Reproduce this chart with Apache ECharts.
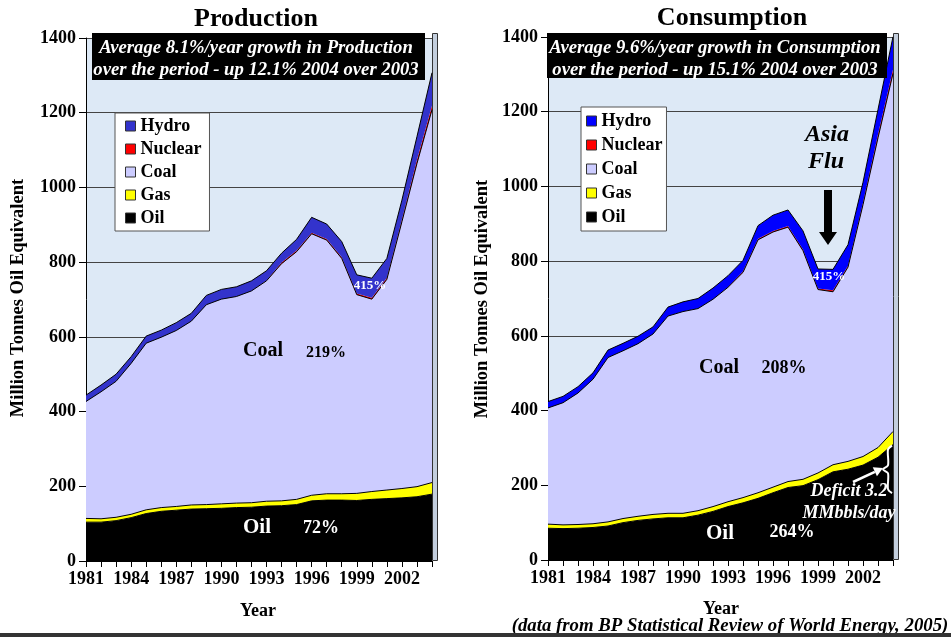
<!DOCTYPE html>
<html>
<head>
<meta charset="utf-8">
<script src="https://cdn.jsdelivr.net/npm/echarts@6/dist/echarts.min.js"></script>
<style>
  html, body { margin: 0; padding: 0; background: #ffffff; }
  #chart { width: 951px; height: 637px; }
</style>
</head>
<body>
<div id="chart"></div>
<script>
// Primary energy, China, Million Tonnes Oil Equivalent
const years = ['1981','1982','1983','1984','1985','1986','1987','1988','1989','1990','1991','1992',
               '1993','1994','1995','1996','1997','1998','1999','2000','2001','2002','2003','2004'];
const yTicks = [0, 200, 400, 600, 800, 1000, 1200, 1400];

// Production
const prodOil     = [104,104,108,116,127,133,136,139,140,141,143,144,147,148,151,161,163,163,162,165,167,169,172,179];
const prodGas     = [10,9,9,9,10,10,10,11,11,12,12,12,13,13,14,15,17,17,19,21,23,25,27,31];
const prodCoal    = [313,340,364,404,446,456,471,492,535,548,553,567,590,635,663,700,679,630,532,515,564,714,865,998];
const prodNuclear = [0,0,0,0,0,0,0,0,0,0,0,0,1,3,3,3,3,3,3,4,4,6,10,11];
const prodHydro   = [17,18,19,18,19,19,21,21,25,26,26,27,26,25,30,41,40,42,50,52,52,52,62,88];

// Consumption
const consOil     = [85,84,85,87,91,100,106,110,113,113,120,130,143,153,165,180,194,199,215,236,243,254,275,309];
const consGas     = [11,10,10,10,11,11,11,12,12,12,12,13,13,14,15,15,16,17,18,19,21,23,26,35];
const consCoal    = [311,327,352,387,440,449,462,483,528,540,541,555,574,603,677,683,681,612,491,463,520,674,829,958];
const consNuclear = [0,0,0,0,0,0,0,0,0,0,0,0,1,3,3,3,3,3,3,4,4,6,10,11];
const consHydro   = [17,17,17,17,20,20,20,19,24,26,27,30,30,29,35,42,43,50,52,56,56,54,66,88];

const FONT = "'Liberation Serif','Times New Roman',serif";
const PLOT_BG = '#dde9f6';
const COLORS = {
  Oil: '#000000', Gas: '#ffff00', Coal: '#ccccff', Nuclear: '#ff0000',
  HydroProd: '#3333cc', HydroCons: '#0000ff'
};

function layer(name, stack, idx, data, color, lineW) {
  return {
    name: name, type: 'line', stack: stack,
    xAxisIndex: idx, yAxisIndex: idx, data: data,
    symbol: 'none', showSymbol: false, smooth: false,
    lineStyle: { color: '#000000', width: lineW },
    areaStyle: { color: color, opacity: 1 },
    itemStyle: { color: color },
    emphasis: { disabled: true },
    animation: false
  };
}

function xAxisOf(grid) {
  return {
    gridIndex: grid, type: 'category', boundaryGap: false, data: years,
    axisLine: { show: true, lineStyle: { color: '#000', width: 1 } },
    axisTick: { show: true, interval: 0, length: 6, lineStyle: { color: '#000' } },
    axisLabel: { interval: 2, fontFamily: FONT, fontWeight: 'bold', fontSize: 18, color: '#000', margin: 9 },
    splitLine: { show: false }
  };
}
function yAxisOf(grid) {
  return {
    gridIndex: grid, type: 'value',
    min: yTicks[0], max: yTicks[yTicks.length - 1], interval: yTicks[1] - yTicks[0],
    axisLine: { show: true, lineStyle: { color: '#000', width: 1 } },
    axisTick: { show: true, length: 7, lineStyle: { color: '#000' } },
    axisLabel: {
      fontFamily: FONT, fontWeight: 'bold', fontSize: 18, color: '#000', margin: 10,
      formatter: function (v) { return String(v); }
    },
    splitLine: { show: true, lineStyle: { color: '#444', width: 1 } }
  };
}

function legendOf(left, top, hydroColor, padding, gap) {
  const box = { borderColor: '#333', borderWidth: 1 };
  return {
    orient: 'vertical', left: left, top: top, icon: 'rect',
    itemWidth: 10, itemHeight: 10, itemGap: gap, padding: padding,
    backgroundColor: '#ffffff', borderColor: '#555', borderWidth: 1,
    selectedMode: false,
    itemStyle: box,
    textStyle: { fontFamily: FONT, fontWeight: 'bold', fontSize: 18, color: '#000', lineHeight: 18 },
    data: [
      { name: 'Hydro',   itemStyle: Object.assign({ color: hydroColor }, box) },
      { name: 'Nuclear', itemStyle: Object.assign({ color: COLORS.Nuclear }, box) },
      { name: 'Coal',    itemStyle: Object.assign({ color: COLORS.Coal }, box) },
      { name: 'Gas',     itemStyle: Object.assign({ color: COLORS.Gas }, box) },
      { name: 'Oil',     itemStyle: Object.assign({ color: COLORS.Oil }, box) }
    ]
  };
}

function txt(x, y, text, size, o) {
  o = o || {};
  return {
    type: 'text', x: x, y: y, z: 50, rotation: o.rotation || 0,
    style: {
      text: text, fill: o.color || '#000',
      fontFamily: FONT, fontSize: size, fontWeight: 'bold',
      fontStyle: o.italic ? 'italic' : 'normal',
      textAlign: o.align || 'center', align: o.align || 'center',
      textVerticalAlign: 'middle', verticalAlign: 'middle'
    }
  };
}

const graphics = [
  // side walls of the two plot boxes
  { type: 'rect', z: 1, shape: { x: 432.5, y: 33.5, width: 5, height: 527 }, style: { fill: '#c3cedd', stroke: '#333', lineWidth: 1 } },
  { type: 'rect', z: 1, shape: { x: 893.5, y: 33.5, width: 5, height: 526 }, style: { fill: '#c3cedd', stroke: '#333', lineWidth: 1 } },

  // titles
  txt(256, 19, 'Production', 26),
  txt(732, 18, 'Consumption', 26),

  // growth captions
  { type: 'rect', z: 40, shape: { x: 92, y: 33, width: 333, height: 47 }, style: { fill: '#000' } },
  txt(256, 48, 'Average 8.1%/year growth in Production', 18.7, { color: '#fff', italic: true }),
  txt(256, 70, 'over the period - up 12.1% 2004 over 2003', 18.7, { color: '#fff', italic: true }),
  { type: 'rect', z: 40, shape: { x: 547, y: 33, width: 340, height: 45 }, style: { fill: '#000' } },
  txt(715, 48, 'Average 9.6%/year growth in Consumption', 18.7, { color: '#fff', italic: true }),
  txt(715, 70, 'over the period - up 15.1% 2004 over 2003', 18.7, { color: '#fff', italic: true }),

  // axis names
  txt(18, 298, 'Million Tonnes Oil Equivalent', 18.5, { rotation: Math.PI / 2 }),
  txt(482, 299, 'Million Tonnes Oil Equivalent', 18.5, { rotation: Math.PI / 2 }),
  txt(258, 611, 'Year', 18),
  txt(721, 609, 'Year', 18),
  txt(730, 626, '(data from BP Statistical Review of World Energy, 2005)', 18.8, { italic: true }),

  // in-area labels, production
  txt(263, 351, 'Coal', 20),
  txt(326, 353, '219%', 16),
  txt(257, 528, 'Oil', 21, { color: '#fff' }),
  txt(321, 528, '72%', 18, { color: '#fff' }),
  txt(370, 286, '415%', 13, { color: '#fff' }),

  // in-area labels, consumption
  txt(719, 368, 'Coal', 20),
  txt(784, 368, '208%', 18),
  txt(720, 534, 'Oil', 21, { color: '#fff' }),
  txt(792, 532, '264%', 18, { color: '#fff' }),
  txt(829, 277, '415%', 13, { color: '#fff' }),

  // Asia Flu callout
  txt(827, 135, 'Asia', 24, { italic: true }),
  txt(826, 162, 'Flu', 24, { italic: true }),
  { type: 'polygon', z: 50, shape: { points: [[824,190],[832,190],[832,232],[837,232],[828,245],[819,232],[824,232]] }, style: { fill: '#000' } },

  // deficit note
  txt(849, 491, 'Deficit 3.2', 18, { color: '#fff', italic: true }),
  txt(849, 513, 'MMbbls/day', 18, { color: '#fff', italic: true }),

  // rule along the foot of the page
  { type: 'rect', z: 50, shape: { x: 0, y: 633, width: 951, height: 4 }, style: { fill: '#333' } }
];

const option = {
  animation: false,
  backgroundColor: '#ffffff',
  grid: [
    { left: 86, top: 38, width: 346, height: 523, show: true, backgroundColor: PLOT_BG, borderWidth: 0 },
    { left: 548, top: 37, width: 345, height: 523, show: true, backgroundColor: PLOT_BG, borderWidth: 0 }
  ],
  xAxis: [xAxisOf(0), xAxisOf(1)],
  yAxis: [yAxisOf(0), yAxisOf(1)],
  legend: [
    legendOf(115, 113, COLORS.HydroProd, [4, 8, 4, 10], 5),
    legendOf(581, 107, COLORS.HydroCons, [5, 4, 5, 5], 6)
  ],
  series: [
    layer('Oil',     'prod', 0, prodOil,     COLORS.Oil, 1),
    layer('Gas',     'prod', 0, prodGas,     COLORS.Gas, 1),
    layer('Coal',    'prod', 0, prodCoal,    COLORS.Coal, 1),
    layer('Nuclear', 'prod', 0, prodNuclear, COLORS.Nuclear, 0),
    layer('Hydro',   'prod', 0, prodHydro,   COLORS.HydroProd, 1),
    layer('Oil',     'cons', 1, consOil,     COLORS.Oil, 1),
    layer('Gas',     'cons', 1, consGas,     COLORS.Gas, 1),
    layer('Coal',    'cons', 1, consCoal,    COLORS.Coal, 1),
    layer('Nuclear', 'cons', 1, consNuclear, COLORS.Nuclear, 0),
    layer('Hydro',   'cons', 1, consHydro,   COLORS.HydroCons, 1)
  ],
  graphic: graphics
};

const chart = echarts.init(document.getElementById('chart'), null, { renderer: 'canvas' });
chart.setOption(option);

// Brace spanning the gap between oil consumed and oil produced in the last year
const last = years.length - 1;
const pTop = chart.convertToPixel({ gridIndex: 1 }, [years[last], consOil[last]]);
const pBot = chart.convertToPixel({ gridIndex: 1 }, [years[last], prodOil[last]]);
const bx = pTop[0] - 5, yT = pTop[1] + 1, yB = pBot[1], yM = (yT + yB) / 2;
const tail = [853, 482], head = [883, 468];
const dx = head[0] - tail[0], dy = head[1] - tail[1], len = Math.hypot(dx, dy);
const ux = dx / len, uy = dy / len;
const hb = [head[0] - ux * 9, head[1] - uy * 9];
chart.setOption({
  graphic: graphics.concat([
    { type: 'polyline', z: 55, shape: { points: [[bx + 4, yT], [bx, yT + 4], [bx, yM - 4], [bx - 5, yM], [bx, yM + 4], [bx, yB - 4], [bx + 4, yB]], smooth: 0.3 },
      style: { stroke: '#fff', lineWidth: 2, fill: null } },
    { type: 'line', z: 55, shape: { x1: tail[0], y1: tail[1], x2: hb[0], y2: hb[1] }, style: { stroke: '#fff', lineWidth: 2.5 } },
    { type: 'polygon', z: 55, shape: { points: [head, [hb[0] - uy * 5, hb[1] + ux * 5], [hb[0] + uy * 5, hb[1] - ux * 5]] }, style: { fill: '#fff' } }
  ])
});
</script>
</body>
</html>
